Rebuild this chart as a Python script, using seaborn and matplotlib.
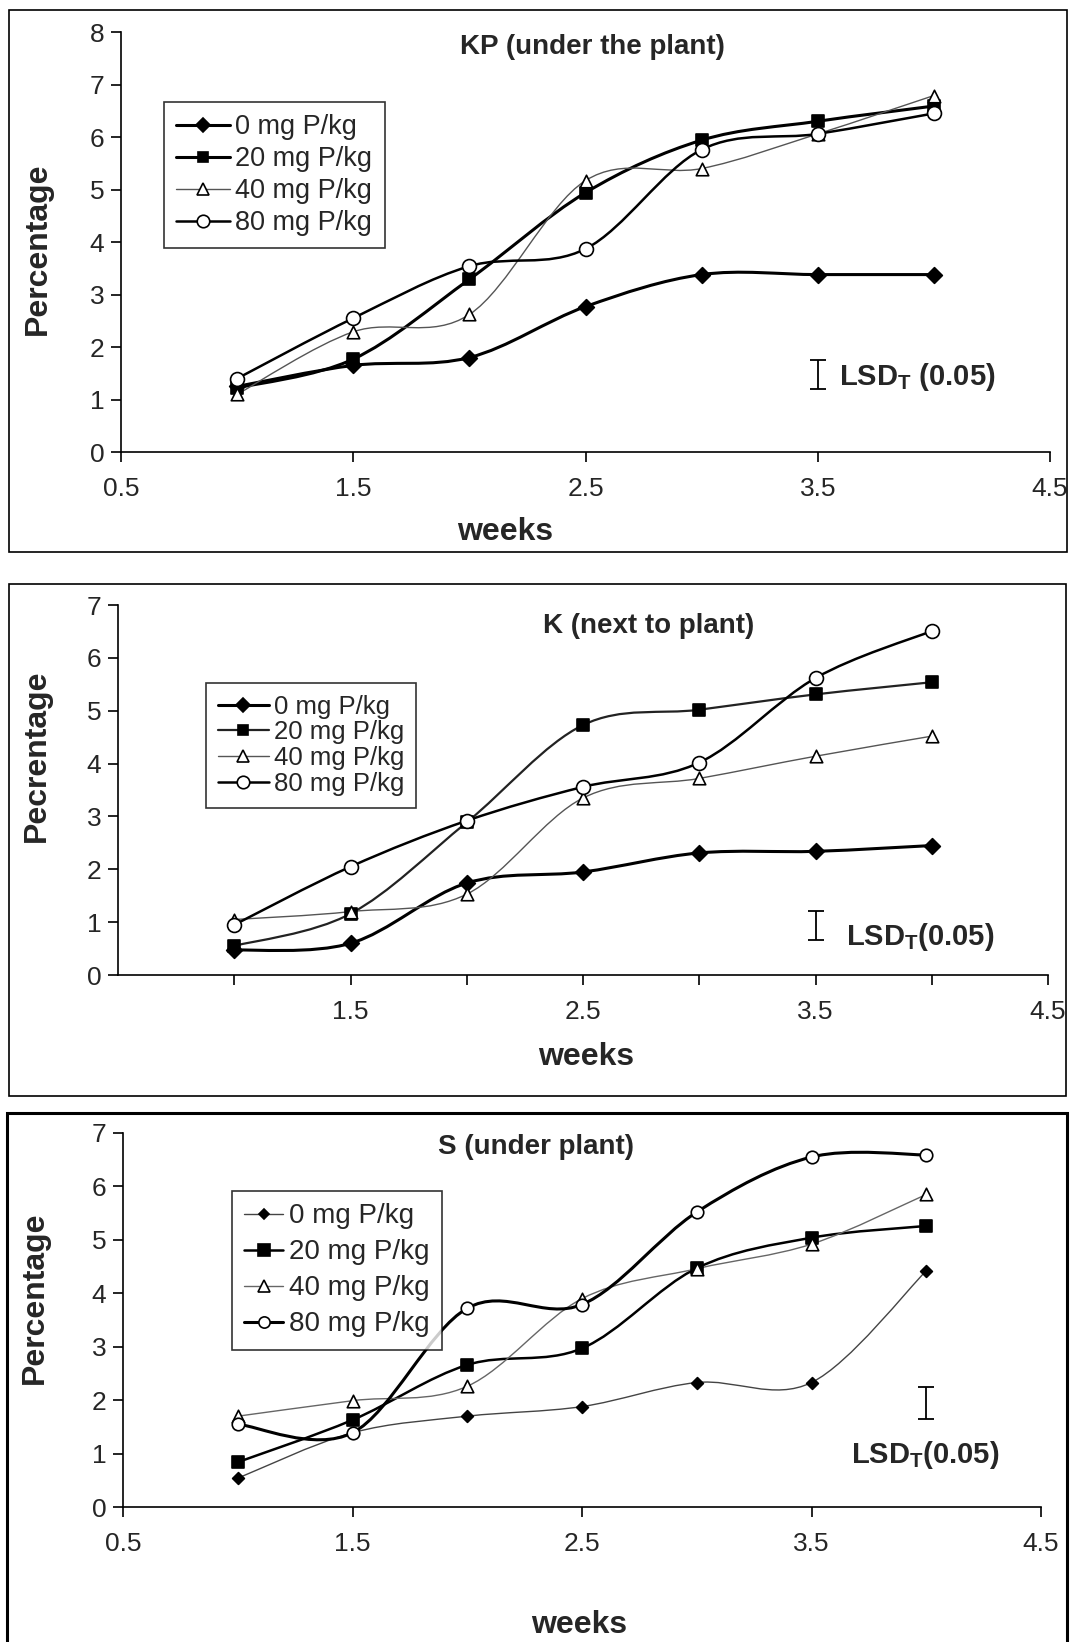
"""Three panels of percentage vs weeks for four P doses (KP, K, S)"""
import numpy as np
import pandas as pd
import seaborn as sns
import matplotlib
matplotlib.use("Agg")
import matplotlib.pyplot as plt
from matplotlib.path import Path
from matplotlib.patches import PathPatch, Rectangle
from matplotlib.lines import Line2D

WEEKS = [1.0, 1.5, 2.0, 2.5, 3.0, 3.5, 4.0]
DOSES = ["0 mg P/kg", "20 mg P/kg", "40 mg P/kg", "80 mg P/kg"]

# KP (under the plant)
KP_0 = [1.25, 1.65, 1.80, 2.77, 3.38, 3.38, 3.38]
KP_20 = [1.22, 1.77, 3.29, 4.94, 5.94, 6.30, 6.59]
KP_40 = [1.10, 2.29, 2.62, 5.17, 5.40, 6.06, 6.79]
KP_80 = [1.40, 2.55, 3.54, 3.87, 5.76, 6.06, 6.45]

# K (next to plant)
K_0 = [0.47, 0.60, 1.74, 1.95, 2.31, 2.34, 2.45]
K_20 = [0.55, 1.16, 2.89, 4.73, 5.02, 5.31, 5.54]
K_40 = [1.05, 1.20, 1.53, 3.35, 3.72, 4.14, 4.52]
K_80 = [0.95, 2.05, 2.92, 3.56, 4.02, 5.62, 6.51]

# S (under plant)
S_0 = [0.54, 1.39, 1.70, 1.88, 2.33, 2.33, 4.42]
S_20 = [0.84, 1.63, 2.66, 2.97, 4.47, 5.04, 5.26]
S_40 = [1.70, 1.99, 2.26, 3.90, 4.46, 4.92, 5.85]
S_80 = [1.55, 1.39, 3.72, 3.79, 5.52, 6.55, 6.59]

TITLES = ["KP (under the plant)", "K (next to plant)", "S (under plant)"]
YLABELS = ["Percentage", "Pecrentage", "Percentage"]
YMAX = [8, 7, 7]
# LSD bar: x, low, high
LSD_X = [3.5, 3.5, 4.0]
LSD_LO = [1.20, 0.67, 1.65]
LSD_HI = [1.75, 1.22, 2.25]

sns.set_style("white")
plt.rcParams["font.family"] = ["Liberation Sans", "DejaVu Sans"]
plt.rcParams["mathtext.fontset"] = "custom"
plt.rcParams["mathtext.bf"] = "Liberation Sans:bold"
plt.rcParams["mathtext.rm"] = "Liberation Sans"

fig = plt.figure(figsize=(10.70, 16.42), dpi=100)

MARKERS = ["D", "s", "^", "o"]
FACES = ["black", "black", "white", "white"]

# per panel: line widths, line colours, marker sizes
STYLES = [
    dict(lw=[2.2, 2.2, 1.0, 1.8], col=["black", "black", "#555555", "black"], ms=[8, 8, 9, 10]),
    dict(lw=[2.2, 1.6, 1.0, 1.8], col=["black", "#222222", "#555555", "black"], ms=[8, 8, 9, 10]),
    dict(lw=[1.0, 1.8, 1.0, 2.2], col=["#444444", "black", "#666666", "black"], ms=[6, 9, 9, 9]),
]

AX_RECTS = [
    [0.1131, 0.7247, 0.8682, 0.2558],
    [0.1103, 0.4062, 0.8692, 0.2253],
    [0.1150, 0.0822, 0.8579, 0.2278],
]
FRAMES = [
    ([0.0084, 0.6638], 0.9888, 0.3301, 1.2),
    ([0.0084, 0.3325], 0.9879, 0.3118, 1.2),
    ([0.0065, -0.005], 0.9907, 0.3270, 2.2),
]
LEG_POS = [(0.153, 0.9379), (0.1925, 0.584), (0.2168, 0.2748)]
# legend font size, label spacing, handle length per panel
LEG_FS = [19.5, 18.5, 20.0]
LEG_LS = [0.22, 0.07, 0.36]
LEG_HL = [2.0, 2.0, 1.4]
TITLE_POS = [(2.53, 7.71), (2.78, 6.60), (2.30, 6.74)]
LSD_TEXT_POS = [(3.59, 1.43), (3.63, 0.72), (3.67, 0.97)]
XLAB_POS = [(0.413, -0.190), (0.503, -0.222), (0.497, -0.316)]
YLAB_POS = [(-0.090, 0.483), (-0.087, 0.592), (-0.096, 0.559)]

PANELS = [
    [KP_0, KP_20, KP_40, KP_80],
    [K_0, K_20, K_40, K_80],
    [S_0, S_20, S_40, S_80],
]


def smooth_path(x, y):
    """Bezier path through the points, like a smoothed spreadsheet line"""
    pts = np.column_stack([x, y])
    n = len(pts)
    verts = [pts[0]]
    codes = [Path.MOVETO]
    for i in range(n - 1):
        p0 = pts[max(i - 1, 0)]
        p1 = pts[i]
        p2 = pts[i + 1]
        p3 = pts[min(i + 2, n - 1)]
        c1 = p1 + (p2 - p0) / 6.0
        c2 = p2 - (p3 - p1) / 6.0
        verts += [c1, c2, p2]
        codes += [Path.CURVE4] * 3
    return Path(verts, codes)


for k, series in enumerate(PANELS):
    ax = fig.add_axes(AX_RECTS[k])
    st = STYLES[k]
    df = pd.DataFrame({
        "week": WEEKS * 4,
        "pct": sum(series, []),
        "dose": [d for d in DOSES for _ in WEEKS],
    })
    handles = []
    for j, dose in enumerate(DOSES):
        sub = df[df["dose"] == dose]
        patch = PathPatch(smooth_path(sub["week"].values, sub["pct"].values),
                          facecolor="none", edgecolor=st["col"][j],
                          lw=st["lw"][j], zorder=2)
        ax.add_patch(patch)
        sns.scatterplot(data=sub, x="week", y="pct", ax=ax, marker=MARKERS[j],
                        s=st["ms"][j] ** 2, color=FACES[j], edgecolor="black",
                        linewidth=1.2, zorder=3, legend=False)
        handles.append(Line2D([], [], color=st["col"][j], lw=st["lw"][j],
                              marker=MARKERS[j], markersize=st["ms"][j] * 0.9,
                              markerfacecolor=FACES[j], markeredgecolor="black",
                              markeredgewidth=1.2, label=dose))

    ax.set_xlim(0.5, 4.5)
    ax.set_ylim(0, YMAX[k])
    ax.set_yticks(range(0, YMAX[k] + 1))
    if k == 1:
        ax.set_xticks([1.5, 2.5, 3.5, 4.5])
        ax.set_xticks([1.0, 2.0, 3.0, 4.0], minor=True)
    else:
        ax.set_xticks([0.5, 1.5, 2.5, 3.5, 4.5])
    ax.set_xticklabels([f"{t:g}" for t in ax.get_xticks()])
    ax.tick_params(axis="both", which="both", direction="out", length=7,
                   width=1.2, color="black", labelsize=19, pad=11, bottom=True, left=True)
    ax.tick_params(axis="y", pad=5)
    sns.despine(ax=ax)
    for sp in ["left", "bottom"]:
        ax.spines[sp].set_color("black")
        ax.spines[sp].set_linewidth(1.2)
    ax.patch.set_alpha(0)

    ax.set_xlabel("weeks", fontsize=23, fontweight="bold", va="center")
    ax.xaxis.set_label_coords(*XLAB_POS[k])
    ax.set_ylabel(YLABELS[k], fontsize=23, fontweight="bold", va="center")
    ax.yaxis.set_label_coords(*YLAB_POS[k])

    ax.text(*TITLE_POS[k], TITLES[k], ha="center", va="center",
            fontsize=20, fontweight="bold")

    mid = (LSD_LO[k] + LSD_HI[k]) / 2
    half = (LSD_HI[k] - LSD_LO[k]) / 2
    ax.errorbar([LSD_X[k]], [mid], yerr=[half], fmt="none", ecolor="black",
                elinewidth=1.3, capsize=6, capthick=1.3)
    ax.text(*LSD_TEXT_POS[k], r"LSD$_\mathbf{T}$ (0.05)" if k == 0 else r"LSD$_\mathbf{T}$(0.05)",
            ha="left", va="center", fontsize=21, fontweight="bold")

    leg = fig.legend(handles=handles, loc="upper left", bbox_to_anchor=LEG_POS[k],
                     bbox_transform=fig.transFigure, fontsize=LEG_FS[k], frameon=True,
                     fancybox=False, shadow=False, borderaxespad=0,
                     handlelength=LEG_HL[k], handletextpad=0.2,
                     labelspacing=LEG_LS[k], borderpad=0.45)
    leg.get_frame().set_edgecolor("black")
    leg.get_frame().set_linewidth(1.2)

    xy, w, h, lw = FRAMES[k]
    fig.patches.append(Rectangle(xy, w, h, transform=fig.transFigure,
                                 fill=False, edgecolor="black", lw=lw))

fig.savefig("out.png", dpi=100)
